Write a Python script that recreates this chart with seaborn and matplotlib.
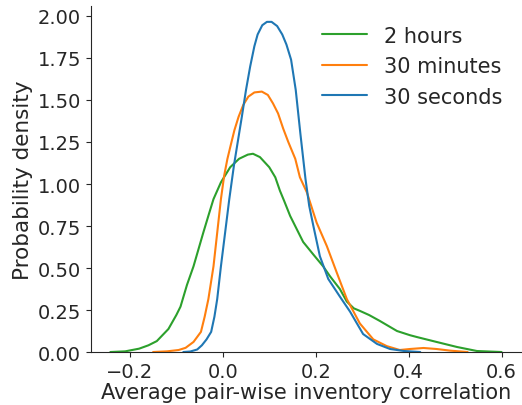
import matplotlib
matplotlib.use("Agg")
import matplotlib.pyplot as plt
import seaborn as sns
import pandas as pd

# Density curves
hours2_x = [-0.242, -0.21, -0.18, -0.16, -0.142, -0.117, -0.10, -0.091, -0.077, -0.063,
            -0.042, -0.030, -0.020, -0.004, 0.016, 0.035, 0.054, 0.065, 0.08, 0.10,
            0.113, 0.123, 0.132, 0.145, 0.173, 0.195, 0.216, 0.231, 0.252, 0.267,
            0.282, 0.295, 0.315, 0.338, 0.375, 0.403, 0.418, 0.46, 0.504, 0.547, 0.60]
hours2_y = [0.0, 0.004, 0.02, 0.04, 0.065, 0.137, 0.22, 0.27, 0.40, 0.51,
            0.71, 0.82, 0.91, 1.01, 1.10, 1.15, 1.175, 1.18, 1.16, 1.10,
            1.04, 0.96, 0.90, 0.81, 0.655, 0.58, 0.51, 0.45, 0.375, 0.30,
            0.26, 0.245, 0.22, 0.185, 0.125, 0.10, 0.089, 0.06, 0.03, 0.006, 0.0]

min30_x = [-0.15, -0.12, -0.095, -0.08, -0.063, -0.055, -0.047, -0.039, -0.031, -0.020,
           -0.012, -0.004, 0.003, 0.010, 0.017, 0.025, 0.034, 0.044, 0.055, 0.068,
           0.084, 0.097, 0.108, 0.119, 0.13, 0.141, 0.156, 0.166, 0.181, 0.202,
           0.224, 0.245, 0.267, 0.295, 0.324, 0.353, 0.381, 0.403, 0.432, 0.46,
           0.49, 0.527]
min30_y = [0.0, 0.004, 0.012, 0.025, 0.06, 0.09, 0.12, 0.21, 0.315, 0.51,
           0.71, 0.91, 1.05, 1.15, 1.23, 1.32, 1.40, 1.47, 1.52, 1.545,
           1.55, 1.53, 1.48, 1.42, 1.33, 1.25, 1.15, 1.04, 0.95, 0.77,
           0.63, 0.475, 0.315, 0.17, 0.075, 0.035, 0.012, 0.018, 0.024, 0.018,
           0.008, 0.0]

sec30_x = [-0.085, -0.07, -0.055, -0.045, -0.035, -0.025, -0.018, -0.012, -0.004, 0.005,
           0.014, 0.024, 0.031, 0.041, 0.050, 0.059, 0.068, 0.075, 0.085, 0.095,
           0.105, 0.117, 0.128, 0.137, 0.147, 0.157, 0.167, 0.178, 0.186, 0.195,
           0.209, 0.227, 0.252, 0.274, 0.302, 0.332, 0.36, 0.39, 0.425]
sec30_y = [0.0, 0.003, 0.015, 0.04, 0.075, 0.12, 0.21, 0.315, 0.51, 0.71,
           0.91, 1.11, 1.23, 1.40, 1.56, 1.70, 1.82, 1.89, 1.945, 1.965,
           1.965, 1.94, 1.89, 1.83, 1.74, 1.56, 1.30, 1.03, 0.87, 0.75,
           0.57, 0.435, 0.33, 0.24, 0.107, 0.048, 0.018, 0.006, 0.0]

series_names = ["2 hours", "30 minutes", "30 seconds"]
series_colors = ["#2ca02c", "#ff7f0e", "#1f77b4"]

frames = []
for name, xs, ys in zip(series_names, [hours2_x, min30_x, sec30_x], [hours2_y, min30_y, sec30_y]):
    frames.append(pd.DataFrame({"x": xs, "y": ys, "series": name}))
df = pd.concat(frames, ignore_index=True)

sns.set_style("ticks")
plt.rcParams["font.family"] = ["DejaVu Sans"]

fig = plt.figure(figsize=(5.22, 4.06), dpi=100)
ax = fig.add_axes([0.174, 0.1305, 0.826, 0.8525])

sns.lineplot(data=df, x="x", y="y", hue="series", hue_order=series_names,
             palette=dict(zip(series_names, series_colors)), sort=False,
             estimator=None, linewidth=1.5, ax=ax)

ax.set_xlim(-0.284, 0.644)
ax.set_ylim(0.0, 2.06)
ax.set_xticks([-0.2, 0.0, 0.2, 0.4, 0.6])
ax.set_yticks([0.0, 0.25, 0.5, 0.75, 1.0, 1.25, 1.5, 1.75, 2.0])
ax.set_yticklabels([f"{v:.2f}" for v in [0.0, 0.25, 0.5, 0.75, 1.0, 1.25, 1.5, 1.75, 2.0]])
ax.set_xticklabels(["\u22120.2", "0.0", "0.2", "0.4", "0.6"])
ax.tick_params(labelsize=14)
ax.set_xlabel("Average pair-wise inventory correlation", fontsize=15, labelpad=1)
ax.set_ylabel("Probability density", fontsize=15.5, labelpad=3)
sns.despine(ax=ax)

leg = ax.legend(loc="upper right", frameon=False, fontsize=15,
                bbox_to_anchor=(0.997, 0.997), handlelength=2.15, labelspacing=0.5)

fig.savefig("out.png", dpi=100)
